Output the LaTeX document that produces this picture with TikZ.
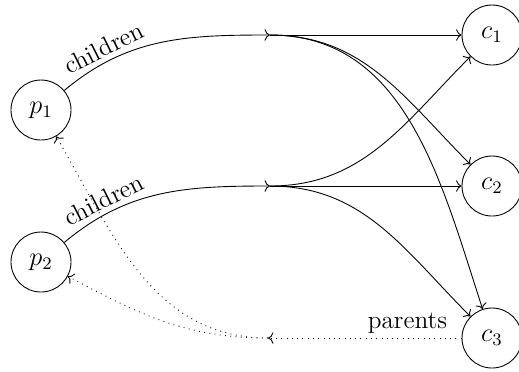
\documentclass[tikz,border=0pt]{standalone}
\usetikzlibrary{arrows.meta}
\begin{document}
\begin{tikzpicture}[x=0.455pt,y=-0.455pt,
  font=\fontsize{11.5}{13}\selectfont,
  vtx/.style={draw,circle,minimum size=27.3pt,inner sep=0pt},
  edg/.style={->},
  back/.style={->,dotted},
  lbl/.style={inner sep=2pt}]
\useasboundingbox (0,0) rectangle (519,371);
\node[vtx] (p1) at (41,110) {$p_1$};
\node[vtx] (p2) at (41,262) {$p_2$};
\node[vtx] (c1) at (492,35) {$c_1$};
\node[vtx] (c2) at (492,186) {$c_2$};
\node[vtx] (c3) at (492,338) {$c_3$};
\coordinate (m1) at (270,35);
\coordinate (m2) at (270,186);
\coordinate (m3) at (268,338);
\draw[edg] (p1) to[out=40,in=180] node[pos=0.24,sloped,above,lbl]{children} (m1);
\draw[edg] (p2) to[out=40,in=180] node[pos=0.24,sloped,above,lbl]{children} (m2);
\draw[edg] (m1) -- (c1);
\draw[edg] (m1) to[out=0,in=135] (c2);
\draw[edg] (m1) to[out=0,in=108] (c3);
\draw[edg] (m2) to[out=0,in=225] (c1);
\draw[edg] (m2) -- (c2);
\draw[edg] (m2) to[out=0,in=135] (c3);
\draw[back] (c3) -- node[pos=0.28,above,lbl]{parents} (m3);
\draw[back] (m3) to[out=180,in=-60] (p1);
\draw[back] (m3) to[out=180,in=-28] (p2);
\end{tikzpicture}
\end{document}
